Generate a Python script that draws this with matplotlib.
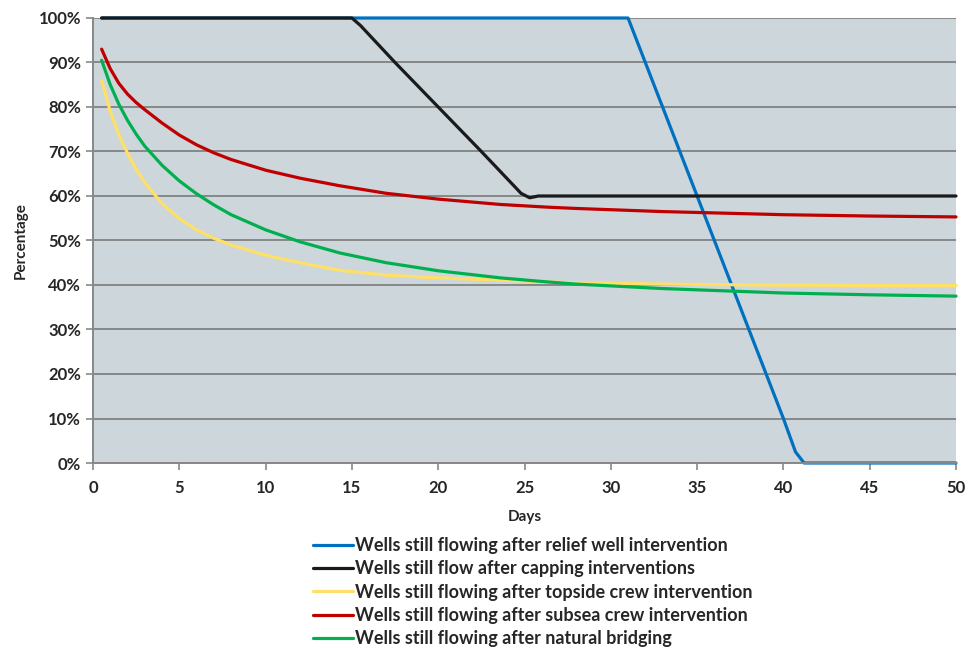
import numpy as np
import matplotlib
matplotlib.use("Agg")
import matplotlib.pyplot as plt
from matplotlib.ticker import FuncFormatter

# values (days, % of wells still flowing)
relief_days = [0.5, 31, 32, 33, 34, 35, 36, 37, 38, 39, 40, 40.7, 41.2, 50]
relief_pct = [100, 100, 90, 80, 70, 60, 50, 40, 30, 20, 10, 2.5, 0, 0]

capping_days = [0.5, 15, 15.5, 17.5, 20, 22.5, 24.8, 25.3, 25.8, 50]
capping_pct = [100, 100, 98.3, 90, 80, 70, 60.6, 59.6, 60, 60]

decay_days = [0.5, 1, 1.5, 2, 2.5, 3, 4, 5, 6, 7, 8, 10, 12, 14.3, 17, 20,
              23.6, 26.3, 28, 33, 40, 45, 50]
topside_pct = [86.0, 79.0, 73.8, 69.6, 66.0, 63.0, 58.3, 54.9, 52.4, 50.5,
               49.0, 46.7, 45.0, 43.3, 42.2, 41.6, 41.1, 40.7, 40.5, 40.2,
               39.95, 39.9, 39.9]
subsea_pct = [93.0, 88.6, 85.3, 82.9, 81.0, 79.4, 76.4, 73.7, 71.5, 69.7,
              68.2, 65.8, 64.0, 62.3, 60.6, 59.3, 58.1, 57.5, 57.2, 56.5,
              55.8, 55.5, 55.3]
bridging_pct = [90.5, 85.0, 80.6, 77.0, 73.9, 71.2, 66.9, 63.4, 60.5, 58.0,
                55.8, 52.4, 49.7, 47.2, 45.0, 43.2, 41.6, 40.7, 40.2, 39.2,
                38.2, 37.8, 37.5]

labels = ["Wells still flowing after relief well intervention",
          "Wells still flow after capping interventions",
          "Wells still flowing after topside crew intervention",
          "Wells still flowing after subsea crew intervention",
          "Wells still flowing after natural bridging"]
colors = ["#0070c0", "#1a1a1a", "#ffe066", "#c00000", "#00b050"]

plt.rcParams['font.family'] = ['Lato', 'DejaVu Sans']
plt.rcParams['font.weight'] = 'bold'

fig = plt.figure(figsize=(9.68, 6.48), dpi=100)
ax = fig.add_axes([93 / 968, 1 - 463 / 648, (956 - 93) / 968, (463 - 18) / 648])
ax.set_facecolor("#cdd6da")

series = [(relief_days, relief_pct), (capping_days, capping_pct),
          (decay_days, topside_pct), (decay_days, subsea_pct),
          (decay_days, bridging_pct)]
for (d, p), lab, col in zip(series, labels, colors):
    ax.plot(d, np.array(p) / 100, color=col, lw=2.3, label=lab,
            solid_joinstyle='round', solid_capstyle='round', clip_on=False)

ax.set_xlim(0, 50)
ax.set_ylim(0, 1)
ax.set_xticks(range(0, 51, 5))
ax.set_yticks(np.arange(0, 1.01, 0.1))
ax.yaxis.set_major_formatter(FuncFormatter(lambda v, _: f"{v * 100:.0f}%"))
ax.grid(axis='y', color="#878787", lw=1.4)
ax.set_axisbelow(True)

for s in ['top', 'right']:
    ax.spines[s].set_visible(False)
for s in ['left', 'bottom']:
    ax.spines[s].set_color("#878787")
    ax.spines[s].set_linewidth(1.4)
ax.tick_params(colors="#878787", width=1.2, length=5, labelcolor="#262626",
               labelsize=12)
ax.tick_params(axis='x', pad=7)

ax.set_xlabel("Days", fontsize=11, fontweight='bold', color="#262626",
              labelpad=10)
ax.set_ylabel("Percentage", fontsize=11, fontweight='bold', color="#262626",
              labelpad=8)

leg = ax.legend(loc='upper left', bbox_to_anchor=(313 / 968, 1 - 537 / 648),
                bbox_transform=fig.transFigure, frameon=False, fontsize=13,
                handlelength=2.2, handletextpad=0.1, labelspacing=0.35,
                borderpad=0, borderaxespad=0)
for t in leg.get_texts():
    t.set_color("#262626")

fig.savefig("out.png", dpi=100)
